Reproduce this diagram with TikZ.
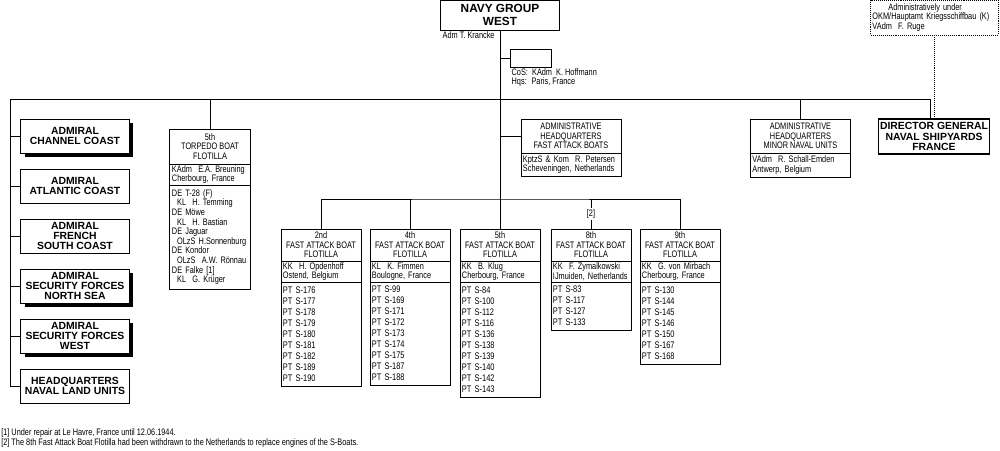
\documentclass[tikz,border=0pt]{standalone}
\usepackage{fontspec}
\usepackage{tikz}
\usetikzlibrary{shapes, positioning}
\newfontfamily\narrowfont{Liberation Sans}[FakeStretch=0.78]
\newfontfamily\heavyfont{Liberation Sans}
\newcommand\namefont{\narrowfont\fontsize{6.7}{6.7}\selectfont\hyphenpenalty=10000}
\newcommand\rowfont{\narrowfont\fontsize{6.8}{7.8}\selectfont}
\newcommand\tbrowfont{\narrowfont\fontsize{6.7}{6.85}\selectfont\hyphenpenalty=10000}
\newcommand\heavytext{\heavyfont\bfseries\fontsize{7.4}{7.2}\selectfont}
\newcommand\topheavy{\heavyfont\bfseries\fontsize{8.4}{8.8}\selectfont}

\begin{document}
\begin{tikzpicture}[x=0.025cm, y=-0.025cm]
\tikzstyle{box} = [draw, line width=0.7pt, inner sep=1pt, outer sep=0pt]
\tikzstyle{plain} = [inner sep=1pt, align=left, font=\namefont]
\tikzstyle{admiral} = [box, align=center, font=\heavytext, minimum width=2.7cm, minimum height=0.85cm]
\tikzstyle{title} = [box, align=center, font=\namefont, minimum width=2cm, minimum height=0.8cm, anchor=north]
\tikzstyle{cmd} = [box, align=left, font=\namefont, text width=1.9cm, inner xsep=0.05cm, minimum height=0.525cm, anchor=north]
\tikzstyle{rows} = [cmd, font=\rowfont]
\tikzstyle{link} = [line width=0.7pt]

\useasboundingbox (0,0) rectangle (1000,450);

\node[box, align=center, font=\topheavy, minimum width=2.95cm, minimum height=0.75cm] (navy) at (500,15) {NAVY GROUP\\WEST};
\node[plain, anchor=north west] (navycmd) at (441,30) {Adm T. Krancke};
\node[box, minimum width=1.025cm, minimum height=0.45cm] (cos) at (530.5,58) {};
\node[plain, anchor=north west] (coscmd) at (cos.south west) {CoS:~ KAdm~ K. Hoffmann\\Hqs:~ Paris, France};

\node[box, dash pattern=on 0.7pt off 0.7pt, align=left, font=\namefont, text width=3.1cm, inner xsep=0.04cm, minimum height=0.875cm] (okm) at (934.5,17.5) {\hspace*{0.4cm}Administratively under\\OKM/Hauptamt Kriegsschiffbau (K)\\VAdm~ F. Ruge};
\node[admiral, line width=1.2pt, minimum height=0.875cm] (dgns) at (934,136.5) {DIRECTOR GENERAL\\NAVAL SHIPYARDS\\FRANCE};

\node[admiral] (chan) at (75,136) {ADMIRAL\\CHANNEL COAST};
\node[admiral] (atl) at (75,186) {ADMIRAL\\ATLANTIC COAST};
\node[admiral] (fsc) at (75,236) {ADMIRAL\\FRENCH\\SOUTH COAST};
\node[admiral] (sfns) at (75,286) {ADMIRAL\\SECURITY FORCES\\NORTH SEA};
\node[admiral] (sfw) at (75,336) {ADMIRAL\\SECURITY FORCES\\WEST};
\node[admiral] (hqlu) at (75,386) {HEADQUARTERS\\NAVAL LAND UNITS};

\node[title, minimum height=0.875cm] (tb5) at (210,129) {5th\\TORPEDO BOAT\\FLOTILLA};
\node[cmd, minimum height=0.5cm] (tb5cmd) at (tb5.south) {KAdm~ E.A. Breuning\\Cherbourg, France};
\node[cmd, font=\tbrowfont, minimum height=2.6cm] (tb5list) at (tb5cmd.south) {DE T-28 (F)\\\hspace*{0.13cm}KL~ H. Temming\\DE Möwe\\\hspace*{0.13cm}KL~ H. Bastian\\DE Jaguar\\\hspace*{0.13cm}OLzS H.Sonnenburg\\DE Kondor\\\hspace*{0.13cm}OLzS~ A.W. Rönnau\\DE Falke [1]\\\hspace*{0.13cm}KL~ G. Krüger};

\node[title, minimum width=2.5cm, minimum height=0.85cm] (ahqf) at (571,119) {ADMINISTRATIVE\\HEADQUARTERS\\FAST ATTACK BOATS};
\node[cmd, text width=2.4cm, minimum height=0.575cm] (ahqfcmd) at (ahqf.south) {KptzS \& Kom~ R. Petersen\\Scheveningen, Netherlands};

\node[title, minimum width=2.5cm, minimum height=0.85cm] (ahqm) at (800.5,119) {ADMINISTRATIVE\\HEADQUARTERS\\MINOR NAVAL UNITS};
\node[cmd, text width=2.4cm, minimum height=0.6cm] (ahqmcmd) at (ahqm.south) {VAdm~ R. Schall-Emden\\Antwerp, Belgium};

\node[title] (fab2) at (321,229) {2nd\\FAST ATTACK BOAT\\FLOTILLA};
\node[cmd] (fab2cmd) at (fab2.south) {KK~ H. Opdenhoff\\Ostend, Belgium};
\node[rows, minimum height=2.6cm] (fab2list) at (fab2cmd.south) {PT S-176\\PT S-177\\PT S-178\\PT S-179\\PT S-180\\PT S-181\\PT S-182\\PT S-189\\PT S-190};

\node[title] (fab4) at (410,229) {4th\\FAST ATTACK BOAT\\FLOTILLA};
\node[cmd] (fab4cmd) at (fab4.south) {KL~ K. Fimmen\\Boulogne, France};
\node[rows, minimum height=2.575cm] (fab4list) at (fab4cmd.south) {PT S-99\\PT S-169\\PT S-171\\PT S-172\\PT S-173\\PT S-174\\PT S-175\\PT S-187\\PT S-188};

\node[title] (fab5) at (500,229) {5th\\FAST ATTACK BOAT\\FLOTILLA};
\node[cmd] (fab5cmd) at (fab5.south) {KK~ B. Klug\\Cherbourg, France};
\node[rows, minimum height=2.875cm] (fab5list) at (fab5cmd.south) {PT S-84\\PT S-100\\PT S-112\\PT S-116\\PT S-136\\PT S-138\\PT S-139\\PT S-140\\PT S-142\\PT S-143};

\node[title] (fab8) at (591,229) {8th\\FAST ATTACK BOAT\\FLOTILLA};
\node[cmd] (fab8cmd) at (fab8.south) {KK~ F. Zymalkowski\\IJmuiden, Netherlands};
\node[rows, minimum height=1.2cm] (fab8list) at (fab8cmd.south) {PT S-83\\PT S-117\\PT S-127\\PT S-133};

\node[title] (fab9) at (680,229) {9th\\FAST ATTACK BOAT\\FLOTILLA};
\node[cmd] (fab9cmd) at (fab9.south) {KK~ G. von Mirbach\\Cherbourg, France};
\node[rows, minimum height=2.05cm] (fab9list) at (fab9cmd.south) {PT S-130\\PT S-144\\PT S-145\\PT S-146\\PT S-150\\PT S-167\\PT S-168};

\node[plain, inner sep=0pt, anchor=west] (note1) at (1,433) {[1] Under repair at Le Havre, France until 12.06.1944.};
\node[plain, inner sep=0pt, anchor=west] (note2) at (1,443) {[2] The 8th Fast Attack Boat Flotilla had been withdrawn to the Netherlands to replace engines of the S-Boats.};

\foreach \adm in {chan, sfns, sfw} {
  \fill ([yshift=-0.1cm]\adm.north east) rectangle ([shift={(0.11cm,-0.11cm)}]\adm.south east);
  \fill ([xshift=0.1cm]\adm.south west) rectangle ([shift={(0.11cm,-0.11cm)}]\adm.south east);
}

\coordinate (bus) at (10,99);
\coordinate (fabbus) at (500,199);

\draw[link] (hqlu.west) -| (bus) -| ([xshift=-0.1cm]dgns.north);
\draw[link] (chan.west) -- (chan.west -| bus);
\draw[link] (atl.west) -- (atl.west -| bus);
\draw[link] (fsc.west) -- (fsc.west -| bus);
\draw[link] (sfns.west) -- (sfns.west -| bus);
\draw[link] (sfw.west) -- (sfw.west -| bus);
\draw[link] (navy.south) -- (fabbus);
\draw[link] (cos.west) -- (cos.west -| navy.south);
\draw[link] (ahqf.west) -- (ahqf.west -| navy.south);
\draw[link] (tb5.north) -- (tb5.north |- bus);
\draw[link] (ahqm.north) -- (ahqm.north |- bus);
\draw[link, dash pattern=on 0.7pt off 0.7pt] (okm.south) -- (okm.south |- dgns.north);
\draw[link] (fab2.north) |- (fabbus) -| (fab9.north);
\draw[link] (fab4.north) -- (fab4.north |- fabbus);
\draw[link] (fab5.north) -- (fabbus);
\draw[link] (fab8.north) -- node[fill=white, font=\namefont, inner sep=1pt] (fab8note) {[2]} (fab8.north |- fabbus);
\end{tikzpicture}
\end{document}
